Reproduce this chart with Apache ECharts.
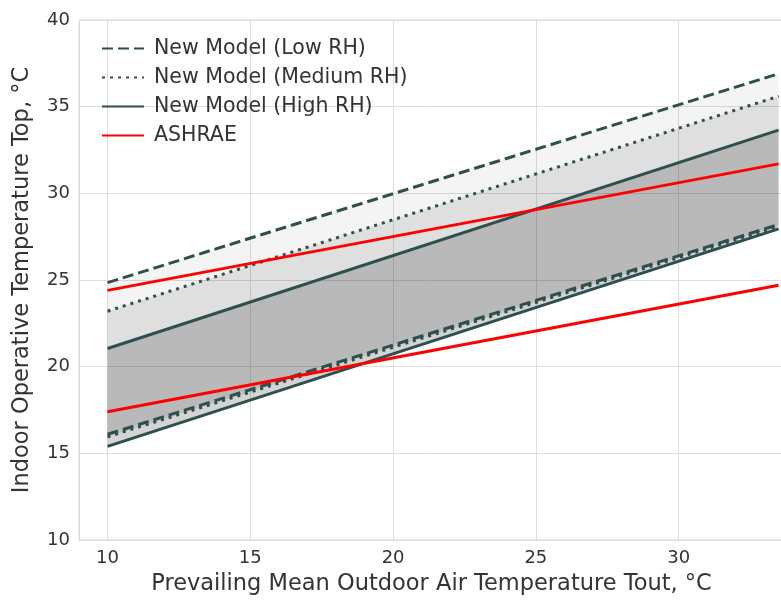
<!DOCTYPE html>
<html>
<head>
<meta charset="utf-8">
<script src="https://cdn.jsdelivr.net/npm/echarts@6/dist/echarts.min.js"></script>
<style>
html,body{margin:0;padding:0;background:#fff;}
#chart{width:781px;height:601px;}
</style>
</head>
<body>
<div id="chart"></div>
<script>
// Prevailing mean outdoor air temperature (x)
const tout = [10, 33.5];
// New model limits (upper / lower) for each RH level
const lowUpper  = [24.85, 36.9];
const lowLower  = [16.1, 28.2];
const medUpper  = [23.2, 35.6];
const medLower  = [15.95, 28.1];
const highUpper = [21.05, 33.65];
const highLower = [15.4, 27.95];
// ASHRAE 80% acceptability limits
const ashraeUpper = [24.4, 31.7];
const ashraeLower = [17.4, 24.7];

const yTicks = [10, 15, 20, 25, 30, 35, 40];

const legendNames = ['New Model (Low RH)', 'New Model (Medium RH)', 'New Model (High RH)', 'ASHRAE'];

const FONT = 'DejaVu Sans';
const DARK = '#2f4f4f';
const RED = '#ff0000';
const TXT = '#333333';

function pts(ys) { return tout.map((x, i) => [x, ys[i]]); }

function band(id, lower, upper, color) {
  return {
    name: id + '-band', type: 'custom', z: 1, silent: true, clip: true,
    data: tout.map((x, i) => [x, lower[i], upper[i]]),
    encode: { x: 0, y: [1, 2] },
    renderItem: function (params, api) {
      if (params.dataIndex !== 0) return null;
      const top = upper.map((y, i) => api.coord([tout[i], y]));
      const bottom = lower.map((y, i) => api.coord([tout[i], y])).reverse();
      return { type: 'polygon', shape: { points: top.concat(bottom) }, style: { fill: color } };
    }
  };
}

function line(name, ys, color, type) {
  return { name: name, type: 'line', data: pts(ys), symbol: 'none', z: 3,
    lineStyle: { color: color, width: 3, type: type, cap: 'butt' },
    itemStyle: { color: color } };
}

const series = [
  band('low', lowLower, lowUpper, 'rgba(0,0,0,0.045)'),
  band('med', medLower, medUpper, 'rgba(0,0,0,0.085)'),
  band('high', highLower, highUpper, 'rgba(0,0,0,0.17)'),
  line(legendNames[0], lowUpper, DARK, [11, 5]),
  line(legendNames[0], lowLower, DARK, [11, 5]),
  line(legendNames[1], medUpper, DARK, [3, 5]),
  line(legendNames[1], medLower, DARK, [3, 5]),
  line(legendNames[2], highUpper, DARK, 'solid'),
  line(legendNames[2], highLower, DARK, 'solid'),
  line(legendNames[3], ashraeUpper, RED, 'solid'),
  line(legendNames[3], ashraeLower, RED, 'solid')
];

const chart = echarts.init(document.getElementById('chart'), null, { renderer: 'canvas' });
chart.setOption({
  animation: false,
  backgroundColor: '#ffffff',
  textStyle: { fontFamily: FONT },
  grid: { left: 79, top: 20, width: 705, bottom: 61, show: true, borderColor: '#dcdcdc', borderWidth: 1,
    containLabel: false, outerBoundsMode: 'none' },
  legend: {
    data: legendNames,
    orient: 'vertical',
    left: 96,
    top: 33,
    itemWidth: 42,
    itemHeight: 20,
    itemGap: 8,
    selectedMode: false,
    itemStyle: { color: 'transparent', borderColor: 'transparent', borderWidth: 0, opacity: 0 },
    textStyle: { fontFamily: FONT, fontSize: 20.5, color: TXT, padding: [0, 0, 0, 5] }
  },
  xAxis: {
    type: 'value',
    min: 9,
    max: 33.69,
    splitNumber: 5,
    name: 'Prevailing Mean Outdoor Air Temperature Tout, °C',
    nameLocation: 'middle',
    nameGap: 33,
    nameTextStyle: { fontFamily: FONT, fontSize: 22.5, color: TXT },
    axisLine: { show: true, lineStyle: { color: '#dcdcdc', width: 1 } },
    axisTick: { show: false },
    axisLabel: { fontFamily: FONT, fontSize: 18, color: TXT, margin: 9, showMinLabel: false, showMaxLabel: false },
    splitLine: { show: true, lineStyle: { color: '#dedede', width: 1 } }
  },
  yAxis: {
    type: 'value',
    min: yTicks[0],
    max: yTicks[yTicks.length - 1],
    interval: 5,
    name: 'Indoor Operative Temperature Top, °C',
    nameLocation: 'middle',
    nameGap: 45,
    nameTextStyle: { fontFamily: FONT, fontSize: 22.5, color: TXT },
    axisLine: { show: true, lineStyle: { color: '#dcdcdc', width: 1 } },
    axisTick: { show: false },
    axisLabel: { fontFamily: FONT, fontSize: 18, color: TXT, margin: 9 },
    splitLine: { show: true, lineStyle: { color: '#dedede', width: 1 } }
  },
  series: series
});
</script>
</body>
</html>
